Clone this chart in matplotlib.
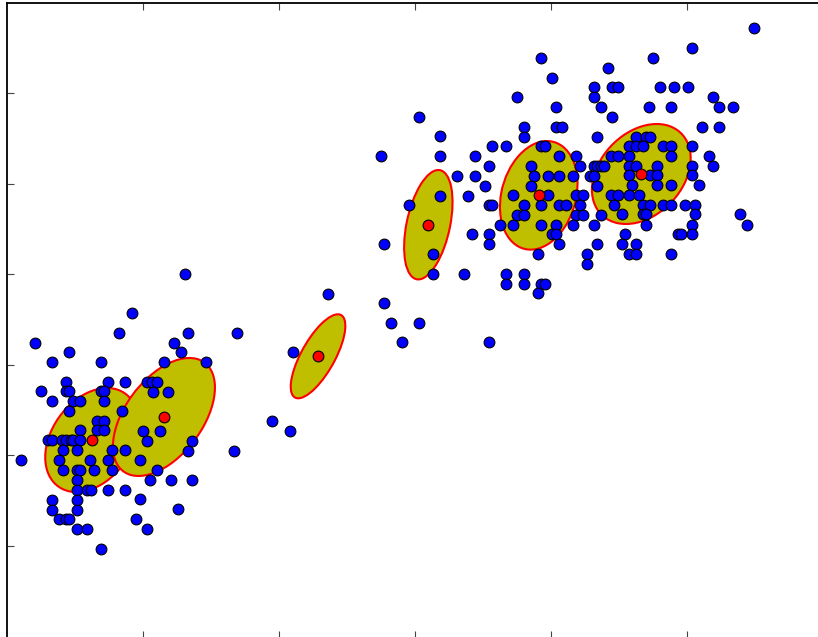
import numpy as np
import matplotlib
matplotlib.use("Agg")
import matplotlib.pyplot as plt
from matplotlib.patches import Ellipse

# ---- data (axis units) ----
x_vals = [
    0.824, 0.204, 0.456, 0.329, 0.691, 0.436, 0.740, 0.868, 0.252, 0.436,
    0.456, 0.691, 0.715, 0.329, 0.485, 0.537, 0.715, 0.458, 0.846, 0.660,
    0.715, 0.537, 0.660, 0.715, 0.304, 0.329, 0.402, 0.436, 0.471, 0.485,
    0.537, 0.410, 0.513, 0.770, 0.868, 0.101, 0.380, 0.610, 0.740, 0.410,
    0.513, 0.537, 0.640, 0.770, 0.513, 0.513, 0.590, 0.615, 0.740, 0.868,
    0.329, 0.513, 0.329, 0.513, 0.380, 0.436, 0.458, 0.513, 0.590, 0.691,
    1.307, 0.921, 1.333, 1.691, 1.230, 1.282, 1.154, 1.461, 1.027, 1.064,
    1.105, 1.076, 1.182, 0.998, 1.127, 1.027, 1.360, 1.333, 1.667, 0.976,
    1.103, 1.051, 1.206, 1.360, 0.976, 1.255, 0.949, 1.027,
    2.360, 2.105, 2.772, 2.824, 3.029, 2.902, 1.949, 2.079, 3.130,
    3.029, 3.184, 2.748, 3.184, 3.441, 3.568, 3.667, 3.311, 3.441, 3.544,
    3.517, 3.184, 3.387, 2.954, 3.544, 3.568, 3.623, 2.772, 3.417, 3.544,
    3.544, 3.132, 3.363, 3.667, 3.667, 3.544,
    3.929, 4.417, 4.005, 3.750, 4.314, 4.446, 4.490, 4.314, 4.035, 4.365,
    4.446, 3.799, 3.799, 4.035, 4.083, 4.340, 3.926, 3.956, 4.057, 4.184,
    4.441, 4.490, 3.851, 4.211, 4.314, 4.338, 4.365, 4.390, 3.877, 3.980,
    4.057, 4.160, 4.287, 4.314, 3.851, 4.338, 3.723, 3.980, 4.184, 4.238,
    4.441, 4.490, 3.799, 3.926, 4.057, 4.108, 4.211, 4.465, 3.750, 3.799,
    4.184, 4.238, 4.365, 3.723, 3.926, 4.035, 4.160, 4.314, 4.005, 4.035,
    4.057, 4.338, 3.904, 4.263, 4.263, 3.799, 3.799, 3.926, 3.956, 3.904,
    5.493, 5.035, 4.752, 4.801, 4.904, 5.007, 5.189, 4.723, 4.880, 5.238,
    5.340, 5.110, 5.238, 4.623, 4.701, 4.728, 4.571, 4.623, 4.674, 4.826,
    4.880, 5.035, 4.571, 4.880, 5.162, 4.571, 4.623, 4.777, 5.035, 5.189,
    4.571, 4.728, 4.777, 5.035, 4.598, 4.777, 4.880, 5.086, 4.571, 4.649,
    4.674, 4.728, 4.826, 4.880, 4.983, 5.061, 4.520, 4.674, 4.701, 5.061,
    5.392, 4.701, 5.035, 5.443, 4.546, 4.932, 4.958, 5.035, 4.520, 4.623,
    4.571, 4.623, 4.880,
]
y_vals = [
    3.354, 3.243, 3.137, 3.027, 3.027, 2.812, 2.812, 2.812, 2.706, 2.706,
    2.706, 2.706, 2.706, 2.599, 2.599, 2.599, 2.599, 2.488, 2.488, 2.381,
    2.381, 2.275, 2.275, 2.275, 2.167, 2.167, 2.167, 2.167, 2.167, 2.167,
    2.167, 2.057, 2.057, 2.057, 2.057, 1.946, 1.946, 1.946, 1.946, 1.836,
    1.836, 1.836, 1.836, 1.836, 1.725, 1.615, 1.615, 1.615, 1.615, 1.615,
    1.504, 1.504, 1.393, 1.393, 1.291, 1.291, 1.291, 1.180, 1.180, 0.965,
    4.003, 3.569, 3.354, 3.354, 3.243, 3.137, 3.027, 3.027, 2.809, 2.809,
    2.809, 2.702, 2.702, 2.267, 2.267, 2.156, 2.156, 2.049, 2.049, 1.946,
    1.836, 1.725, 1.725, 1.725, 1.512, 1.401, 1.291, 1.180,
    3.785, 3.137, 3.679, 3.465, 3.465, 3.248, 2.378, 2.267, 4.006,
    5.743, 5.526, 5.308, 5.308, 5.308, 5.415, 5.415, 5.090, 5.090, 5.201,
    4.980, 4.869, 4.869, 4.766, 4.766, 4.766, 4.548, 4.332, 4.442, 4.442,
    4.332, 4.224, 4.006, 4.006, 3.896, 3.248,
    6.392, 6.281, 6.174, 5.957, 6.068, 6.068, 6.068, 5.957, 5.850, 5.850,
    5.743, 5.632, 5.521, 5.632, 5.632, 5.521, 5.415, 5.415, 5.308, 5.308,
    5.308, 5.308, 5.197, 5.197, 5.197, 5.197, 5.197, 5.197, 5.090, 5.090,
    5.090, 5.090, 5.090, 5.090, 4.980, 4.980, 4.873, 4.873, 4.873, 4.873,
    4.873, 4.873, 4.766, 4.766, 4.766, 4.766, 4.766, 4.766, 4.659, 4.659,
    4.659, 4.659, 4.659, 4.548, 4.548, 4.548, 4.548, 4.548, 4.442, 4.442,
    4.332, 4.332, 4.224, 4.224, 4.114, 4.006, 3.896, 3.896, 3.896, 3.790,
    6.720, 6.502, 6.395, 6.068, 6.068, 6.068, 5.960, 5.850, 5.850, 5.850,
    5.850, 5.632, 5.632, 5.521, 5.521, 5.521, 5.415, 5.415, 5.415, 5.415,
    5.415, 5.415, 5.308, 5.308, 5.308, 5.201, 5.201, 5.201, 5.201, 5.201,
    5.095, 5.095, 5.095, 5.095, 4.987, 4.987, 4.987, 4.987, 4.880, 4.880,
    4.766, 4.766, 4.766, 4.766, 4.766, 4.766, 4.663, 4.663, 4.663, 4.663,
    4.663, 4.548, 4.548, 4.548, 4.445, 4.445, 4.445, 4.445, 4.332, 4.332,
    4.228, 4.228, 4.228,
]

mean_x = [0.623, 1.154, 2.287, 3.098, 3.910, 4.664]
mean_y = [2.167, 2.422, 3.093, 4.548, 4.873, 5.109]

# covariance entries (xx, xy, yy) of each component
cov_xx = [0.1169, 0.1406, 0.0403, 0.0317, 0.0814, 0.1319]
cov_xy = [0.0650, 0.1220, 0.0675, 0.0443, 0.0361, 0.0626]
cov_yy = [0.3307, 0.4257, 0.2157, 0.3659, 0.3605, 0.3057]

x_ticks = [1, 2, 3, 4, 5]
y_ticks = [1, 2, 3, 4, 5, 6]

# ---- figure ----
W, H = 818, 637
fig = plt.figure(figsize=(W / 100, H / 100), dpi=100)
ax = fig.add_axes([7 / W, -0.8 / H, 816 / W, 634.8 / H])

for mx, my, cxx, cxy, cyy in zip(mean_x, mean_y, cov_xx, cov_xy, cov_yy):
    cov = np.array([[cxx, cxy], [cxy, cyy]])
    vals, vecs = np.linalg.eigh(cov)
    angle = np.degrees(np.arctan2(vecs[1, 1], vecs[0, 1]))
    e = Ellipse((mx, my), 2 * np.sqrt(vals[1]), 2 * np.sqrt(vals[0]),
                angle=angle, facecolor=(0.75, 0.75, 0.0),
                edgecolor='red', linewidth=1.5, zorder=1)
    ax.add_patch(e)

ax.scatter(x_vals, y_vals, s=60, c='blue', edgecolors='black',
           linewidths=0.8, zorder=2)
ax.scatter(mean_x, mean_y, s=60, c='red', edgecolors='black',
           linewidths=0.8, zorder=3)

ax.set_xlim(0, 6)
ax.set_ylim(-0.02, 7)
ax.set_xticks(x_ticks)
ax.set_yticks(y_ticks)
ax.set_xticklabels([])
ax.set_yticklabels([])
ax.tick_params(direction='in', length=5, width=0.8, color='#444444',
               top=True, right=False)
for sp in ax.spines.values():
    sp.set_linewidth(1.3)
    sp.set_color('black')

fig.savefig("out.png", dpi=100)
